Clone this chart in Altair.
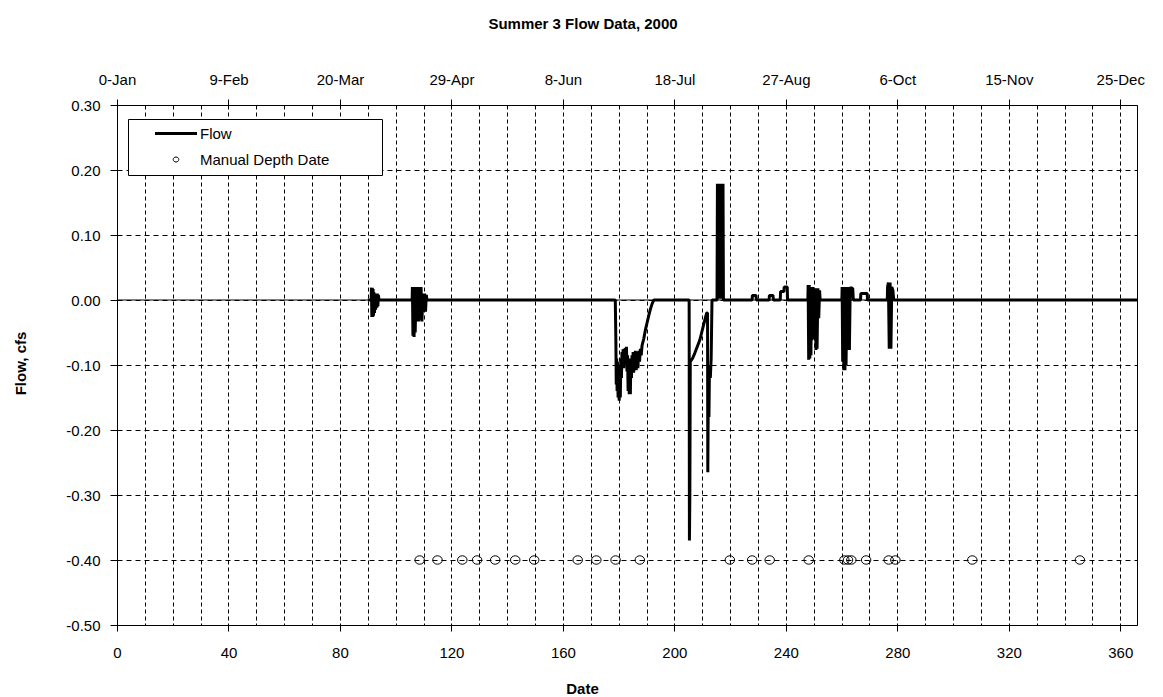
import json

import altair as alt
import pandas as pd

# ---- text -------------------------------------------------------------
TITLE = "Summer 3 Flow Data, 2000"
X_TITLE = "Date"
Y_TITLE = "Flow, cfs"
SERIES = ["Flow", "Manual Depth Date"]

# ---- axes -------------------------------------------------------------
X_GRID = [0, 10, 20, 30, 40, 50, 60, 70, 80, 90, 100, 110, 120, 130, 140, 150, 160, 170,
          180, 190, 200, 210, 220, 230, 240, 250, 260, 270, 280, 290, 300, 310, 320, 330,
          340, 350, 360]
X_TICKS = [0, 40, 80, 120, 160, 200, 240, 280, 320, 360]
TOP_LABELS = ["0-Jan", "9-Feb", "20-Mar", "29-Apr", "8-Jun", "18-Jul", "27-Aug", "6-Oct",
              "15-Nov", "25-Dec"]
Y_TICKS = [-0.5, -0.4, -0.3, -0.2, -0.1, 0.0, 0.1, 0.2, 0.3]
ZERO_LINE = [0.0]

# ---- flow record (day of year, cfs) -------------------------------------
FLOW_DAY = [
    90.0, 91.2, 91.3, 91.45, 91.6, 91.75, 91.9, 92.05, 92.2, 92.4, 92.6, 92.8, 93.0, 93.2,
    93.4, 93.6, 93.8, 94.0,
    105.9, 106.0, 106.2, 106.4, 106.6, 106.8, 107.0, 107.3, 107.6, 107.9, 108.2, 108.5,
    108.8, 109.1, 109.4, 109.8, 110.1, 110.4, 110.7, 111.0, 111.2,
    178.8, 179.0, 179.15, 179.3, 179.45, 179.6, 179.8, 180.0, 180.2, 180.4, 180.6, 180.8,
    181.0, 181.2, 181.4, 181.6, 181.8, 182.0, 182.2, 182.4, 182.6, 182.8, 183.0, 183.2,
    183.4, 183.6, 183.8, 184.0, 184.2, 184.4, 184.6, 184.8, 185.0, 185.2, 185.4, 185.6,
    185.8, 186.0, 186.3, 186.6, 186.9, 187.2, 187.5, 187.8, 188.1, 188.4, 189.0, 189.6,
    190.2, 190.8, 191.4, 192.0, 192.6,
    205.3, 205.4, 205.55, 205.7, 206.5, 207.3, 208.2, 209.1, 209.8, 210.5, 211.1, 211.6,
    211.9, 212.0, 212.2, 212.4, 212.6, 212.9, 213.2, 213.5,
    215.3, 215.45, 215.7, 215.95, 216.2, 216.45, 216.7, 216.95, 217.2, 217.45, 217.6,
    227.9, 228.0, 229.3, 229.4,
    234.0, 234.1, 235.4, 235.5,
    238.0, 238.1, 239.3, 239.4, 240.5, 240.6,
    247.9, 248.0, 248.2, 248.4, 248.6, 248.8, 249.0, 249.2, 249.4, 249.6, 249.8, 250.0,
    250.3, 250.6, 250.8, 251.0, 251.2, 251.5, 251.8, 252.1, 252.3,
    260.1, 260.2, 260.4, 260.6, 260.8, 261.0, 261.2, 261.4, 261.6, 261.9, 262.2, 262.5,
    262.8, 263.1, 263.4, 263.7, 264.0, 264.2,
    266.8, 266.9, 269.2, 269.3,
    276.4, 276.5, 276.8, 277.1, 277.4, 277.7, 278.0, 278.4, 278.7,
    366.0,
]
FLOW_CFS = [
    0.0, 0.0, 0.019, -0.026, 0.019, -0.026, 0.017, -0.024, 0.012, -0.020, 0.010, -0.015,
    0.010, -0.012, 0.010, -0.010, 0.008, 0.0,
    0.0, 0.020, -0.055, 0.020, -0.057, 0.020, -0.050, 0.020, -0.033, 0.020, -0.033, 0.020,
    -0.030, 0.020, -0.033, 0.010, -0.018, 0.010, -0.018, 0.008, 0.0,
    0.0, -0.060, -0.130, -0.090, -0.140, -0.095, -0.150, -0.100, -0.155, -0.100, -0.150,
    -0.090, -0.120, -0.080, -0.100, -0.076, -0.105, -0.075, -0.095, -0.074, -0.090, -0.072,
    -0.110, -0.085, -0.140, -0.090, -0.145, -0.095, -0.145, -0.090, -0.120, -0.085, -0.110,
    -0.080, -0.112, -0.082, -0.105, -0.078, -0.108, -0.080, -0.105, -0.078, -0.095, -0.075,
    -0.085, -0.070, -0.060, -0.046, -0.035, -0.024, -0.014, -0.006, 0.0,
    0.0, -0.370, -0.300, -0.095, -0.090, -0.082, -0.072, -0.062, -0.050, -0.038, -0.028,
    -0.020, -0.020, -0.265, -0.120, -0.180, -0.100, -0.120, -0.090, 0.0,
    0.0, 0.179, 0.002, 0.179, 0.002, 0.179, 0.002, 0.179, 0.002, 0.179, 0.0,
    0.0, 0.007, 0.007, 0.0,
    0.0, 0.007, 0.007, 0.0,
    0.0, 0.013, 0.013, 0.020, 0.020, 0.0,
    0.0, 0.023, -0.092, 0.023, -0.090, 0.020, -0.085, 0.020, -0.062, 0.020, -0.060, 0.005,
    0.0, 0.018, -0.077, 0.018, -0.075, 0.018, -0.028, 0.015, 0.0,
    0.0, 0.020, -0.095, 0.020, -0.108, 0.020, -0.108, 0.020, -0.100, 0.020, -0.077, 0.020,
    -0.077, 0.020, 0.018, 0.018, 0.018, 0.0,
    0.0, 0.010, 0.010, 0.0,
    0.0, 0.020, 0.027, -0.075, 0.027, -0.075, 0.020, 0.015, 0.0,
    0.0,
]
assert len(FLOW_DAY) == len(FLOW_CFS)

# ---- manual depth measurement dates -------------------------------------
MDD_DAY = [108.6, 115.0, 123.9, 129.2, 135.7, 142.9, 149.7, 165.3, 172.0, 178.9, 187.6,
           219.9, 227.9, 234.2, 248.2, 261.0, 262.3, 263.5, 268.8, 276.9, 279.3, 306.9,
           345.5]
MDD_CFS = [-0.40, -0.40, -0.40, -0.40, -0.40, -0.40, -0.40, -0.40, -0.40, -0.40, -0.40,
           -0.40, -0.40, -0.40, -0.40, -0.40, -0.40, -0.40, -0.40, -0.40, -0.40, -0.40,
           -0.40]

FONT = "Liberation Sans"
INK = "#000000"

# open oval used for the measurement markers (unit square)
OVAL_PATH = "M1,0A1,0.89,0,1,1,-1,0A1,0.89,0,1,1,1,0Z"
# legend keys: a thick bar and a small oval, drawn to the right of a narrow symbol slot
KEY_BAR = "M2.5,-0.2L10.9,-0.2M2.5,0L10.9,0M2.5,0.2L10.9,0.2"
KEY_OVAL = "M7.26,0A0.56,0.5,0,1,1,6.14,0A0.56,0.5,0,1,1,7.26,0Z"

flow_df = pd.DataFrame({"day": FLOW_DAY, "cfs": FLOW_CFS,
                        "i": list(range(len(FLOW_DAY)))})
mdd_df = pd.DataFrame({"day": MDD_DAY, "cfs": MDD_CFS})
zero_df = pd.DataFrame({"cfs": ZERO_LINE})
key_df = pd.DataFrame({"series": SERIES})

x_scale = alt.Scale(domain=[0, 366], nice=False, zero=False)
y_scale = alt.Scale(domain=[-0.5, 0.3], nice=False, zero=False)

y_axis = alt.Axis(
    values=Y_TICKS,
    labelExpr="(datum.value < -0.0001 ? '-' : '') + format(abs(datum.value), '.2f')",
    grid=True, gridDash=[5, 4], gridColor=INK, gridWidth=1, gridOpacity=1,
    domain=False, ticks=True, tickSize=7, tickColor=INK, tickWidth=1,
    labelFont=FONT, labelFontSize=15, labelColor=INK, labelPadding=10,
    title=Y_TITLE, titleFont=FONT, titleFontSize=15, titleFontWeight="bold",
    titleColor=INK, titleX=-97, titleY=258, titleBaseline="middle", titleAngle=270,
)

bottom_axis = alt.Axis(
    orient="bottom", values=X_GRID,
    labelExpr="datum.value % 40 === 0 ? datum.label : ''",
    grid=True, gridDash=[4, 3], gridColor=INK, gridWidth=1, gridOpacity=1,
    domain=False, tickSize=6, tickColor=INK, tickWidth=1,
    tickOpacity={"condition": {"test": "datum.value % 40 === 0", "value": 1}, "value": 0},
    labelFont=FONT, labelFontSize=15, labelColor=INK, labelPadding=14,
    labelFlush=False, labelOverlap=False,
    title=X_TITLE, titleFont=FONT, titleFontSize=15, titleFontWeight="bold",
    titleColor=INK, titleX=465, titleY=63, titleBaseline="middle",
)

top_label_expr = json.dumps(TOP_LABELS) + "[round(datum.value / 40)]"
top_axis = alt.Axis(
    orient="top", values=X_TICKS, labelExpr=top_label_expr,
    grid=False, domain=False, tickSize=6, tickColor=INK, tickWidth=1,
    labelFont=FONT, labelFontSize=15, labelColor=INK, labelPadding=12,
    labelFlush=False, labelOverlap=False, title=None,
)

zero_rule = alt.Chart(zero_df).mark_rule(color=INK, strokeWidth=1).encode(
    y=alt.Y("cfs:Q", scale=y_scale, axis=y_axis),
)

flow_line = alt.Chart(flow_df).mark_line(
    color=INK, strokeWidth=3, strokeJoin="bevel", interpolate="linear", clip=True
).encode(
    x=alt.X("day:Q", scale=x_scale, axis=bottom_axis),
    y=alt.Y("cfs:Q", scale=y_scale, axis=y_axis),
    order=alt.Order("i:Q"),
)

mdd_points = alt.Chart(mdd_df).mark_point(
    filled=False, color=INK, strokeWidth=1, opacity=1, size=90, shape=OVAL_PATH
).encode(
    x=alt.X("day:Q", scale=x_scale, axis=top_axis),
    y=alt.Y("cfs:Q", scale=y_scale, axis=y_axis),
)

# invisible carrier for the boxed legend; a transparent side title pads the frame
legend_keys = alt.Chart(key_df).mark_point(
    filled=False, color=INK, opacity=0, strokeWidth=1
).encode(
    shape=alt.Shape(
        "series:N",
        scale=alt.Scale(domain=SERIES, range=[KEY_BAR, KEY_OVAL]),
        legend=alt.Legend(
            title=".", titleOrient="right", titleOpacity=0, titlePadding=41,
            titleFont=FONT, titleFontSize=15,
            orient="none", legendX=11, legendY=14,
            strokeColor=INK, fillColor="white", padding=7,
            symbolSize=100, symbolStrokeColor=INK, symbolStrokeWidth=1,
            symbolFillColor="transparent", symbolOpacity=1,
            labelFont=FONT, labelFontSize=15, labelColor=INK, labelOffset=50,
            rowPadding=10, labelLimit=500,
        ),
    ),
)

chart = (
    alt.layer(zero_rule, flow_line, mdd_points, legend_keys)
    .resolve_axis(x="independent")
    .properties(
        width=1020, height=520,
        title=alt.TitleParams(TITLE, font=FONT, fontSize=15, fontWeight="bold",
                              color=INK, offset=40, anchor="middle", dx=-44),
        autosize=alt.AutoSizeParams(type="none"),
        padding={"left": 117, "top": 105, "right": 26, "bottom": 72},
        background="white",
    )
    .configure_view(stroke=INK, strokeWidth=1)
)

chart.save("out.html", embed_options={"renderer": "svg", "actions": False})
